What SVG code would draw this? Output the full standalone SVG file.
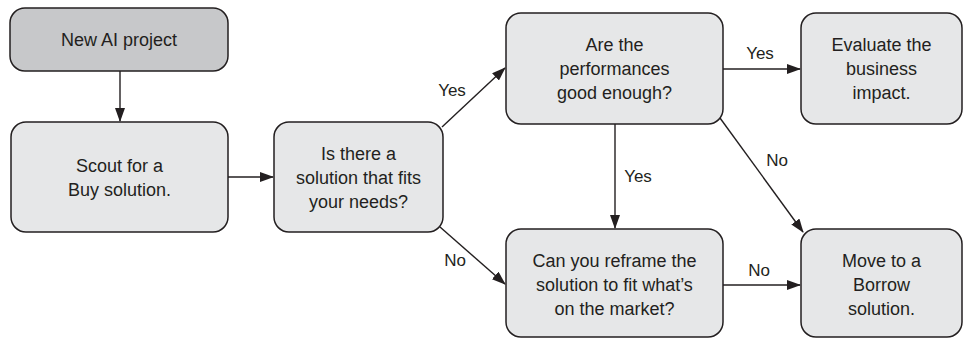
<svg xmlns="http://www.w3.org/2000/svg" width="963" height="339" viewBox="0 0 963 339">
<defs>
<marker id="arr" markerWidth="14" markerHeight="10" refX="13" refY="5" orient="auto" markerUnits="userSpaceOnUse">
<path d="M0,0 L14,5 L0,10 Z" fill="#231f20"/>
</marker>
<style>
.box{fill:#e6e7e8;stroke:#231f20;stroke-width:1.5}
.start{fill:#c7c8ca;stroke:#231f20;stroke-width:1.5}
.t{font-family:"Liberation Sans",Arial,sans-serif;font-size:18px;fill:#231f20;text-anchor:middle}
.l{font-family:"Liberation Sans",Arial,sans-serif;font-size:17px;fill:#231f20;text-anchor:middle}
.c{stroke:#231f20;stroke-width:1.4;fill:none;marker-end:url(#arr)}
</style>
</defs>
<g id="connectors">
<line class="c" x1="120" y1="71" x2="120" y2="121"/>
<line class="c" x1="228" y1="177" x2="273" y2="177"/>
<line class="c" x1="442" y1="127" x2="505" y2="68"/>
<line class="c" x1="440" y1="227" x2="505" y2="284"/>
<line class="c" x1="723" y1="69" x2="800" y2="69"/>
<line class="c" x1="615" y1="124" x2="615" y2="228"/>
<line class="c" x1="720" y1="118" x2="803" y2="232"/>
<line class="c" x1="723" y1="285" x2="800" y2="285"/>
<text class="l" x="452" y="96">Yes</text>
<text class="l" x="455" y="266">No</text>
<text class="l" x="760" y="59">Yes</text>
<text class="l" x="638" y="182">Yes</text>
<text class="l" x="777" y="166">No</text>
<text class="l" x="759" y="276">No</text>
</g>
<g id="new-ai-project">
<rect class="start" x="10" y="8" width="218" height="63" rx="15"/>
<text class="t" x="119" y="46">New AI project</text>
</g>
<g id="scout">
<rect class="box" x="11" y="122" width="217" height="110" rx="15"/>
<text class="t" x="119.5" y="172">Scout for a</text>
<text class="t" x="119.5" y="196">Buy solution.</text>
</g>
<g id="is-there">
<rect class="box" x="274" y="122" width="169" height="110" rx="15"/>
<text class="t" x="358.5" y="160">Is there a</text>
<text class="t" x="358.5" y="184">solution that fits</text>
<text class="t" x="358.5" y="208">your needs?</text>
</g>
<g id="performances">
<rect class="box" x="506" y="13" width="217" height="111" rx="15"/>
<text class="t" x="614.5" y="51">Are the</text>
<text class="t" x="614.5" y="75">performances</text>
<text class="t" x="614.5" y="99">good enough?</text>
</g>
<g id="evaluate">
<rect class="box" x="801" y="13" width="161" height="111" rx="15"/>
<text class="t" x="881.5" y="51">Evaluate the</text>
<text class="t" x="881.5" y="75">business</text>
<text class="t" x="881.5" y="99">impact.</text>
</g>
<g id="reframe">
<rect class="box" x="506" y="229" width="217" height="108" rx="15"/>
<text class="t" x="614.5" y="267">Can you reframe the</text>
<text class="t" x="614.5" y="291">solution to fit what’s</text>
<text class="t" x="614.5" y="315">on the market?</text>
</g>
<g id="borrow">
<rect class="box" x="801" y="229" width="161" height="108" rx="15"/>
<text class="t" x="881.5" y="267">Move to a</text>
<text class="t" x="881.5" y="291">Borrow</text>
<text class="t" x="881.5" y="315">solution.</text>
</g>
</svg>
